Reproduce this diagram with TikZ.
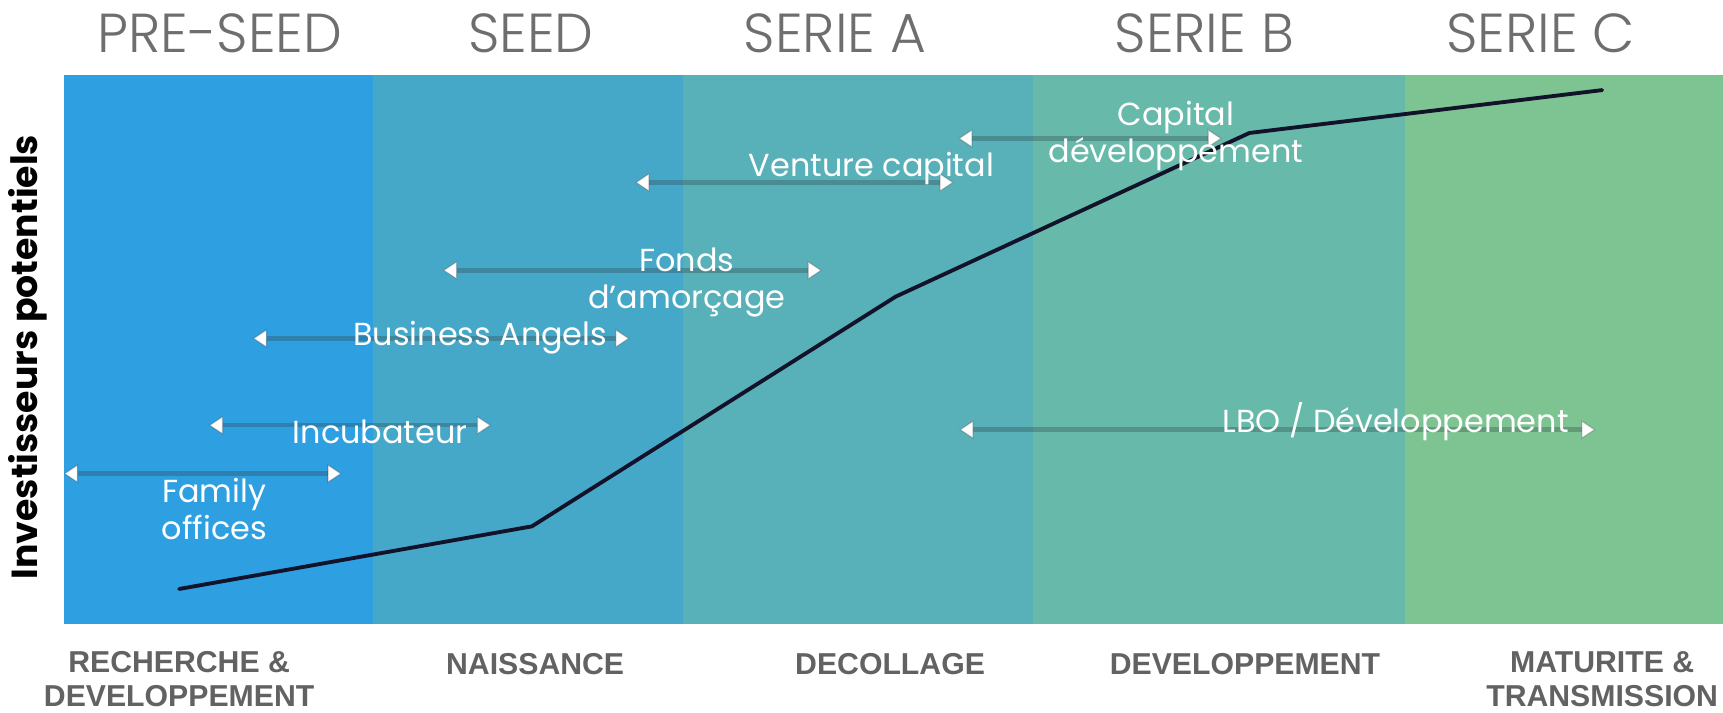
\documentclass[tikz,border=0pt]{standalone}
\usepackage{fontspec}
\setmainfont{Poppins}
\newfontfamily\lightfont{Poppins Light}
\newfontfamily\capsfont{Liberation Sans}
\usetikzlibrary{arrows.meta}

\definecolor{bandA}{HTML}{2E9FE0}
\definecolor{bandB}{HTML}{46A8C8}
\definecolor{bandC}{HTML}{58B0B8}
\definecolor{bandD}{HTML}{67B9A9}
\definecolor{bandE}{HTML}{7EC492}
\definecolor{phasegray}{HTML}{6E6E6E}
\definecolor{stagegray}{HTML}{626262}
\definecolor{shaft}{HTML}{2E3A40}
\definecolor{curveblack}{HTML}{12122A}

\tikzset{
  phase/.style={font=\lightfont\fontsize{50}{50}\selectfont, text=phasegray},
  stage/.style={font=\capsfont\bfseries\fontsize{27.5}{31}\selectfont, text=stagegray, align=center},
  investor/.style={font=\fontsize{29}{34}\selectfont, text=white, align=center},
  span/.style={line width=4pt, draw=shaft, draw opacity=0.3,
    {Triangle[fill=white,line width=1pt,length=13pt,width=17pt]}-{Triangle[fill=white,line width=1pt,length=13pt,width=17pt]}},
}

\begin{document}
\begin{tikzpicture}[x=1pt,y=-1pt]
\useasboundingbox (0,0) rectangle (1568,648);

%bands
\fill[bandA] (58,68) rectangle (339,568);
\fill[bandB] (339,68) rectangle (622,568);
\fill[bandC] (622,68) rectangle (940,568);
\fill[bandD] (940,68) rectangle (1279,568);
\fill[bandE] (1279,68) rectangle (1568,568);

%phases
\node[phase] (preseed) at (200,30) {PRE-SEED};
\node[phase] (seed) at (483,30) {SEED};
\node[phase] (seriea) at (760,30) {SERIE A};
\node[phase] (serieb) at (1096,30) {SERIE B};
\node[phase] (seriec) at (1402,30) {SERIE C};

%stages
\node[stage] (rd) at (163,618) {RECHERCHE \&\\DEVELOPPEMENT};
\node[stage] (naissance) at (487,604) {NAISSANCE};
\node[stage] (decollage) at (810,604) {DECOLLAGE};
\node[stage] (dev) at (1133,604) {DEVELOPPEMENT};
\node[stage] (maturite) at (1458,618) {MATURITE \&\\TRANSMISSION};

%axis label
\node[rotate=90, font=\bfseries\fontsize{33}{33}\selectfont] (ylabel) at (25,325) {Investisseurs potentiels};

%curve
\coordinate (p1) at (163,536);
\coordinate (p2) at (484,479);
\coordinate (p3) at (815,270);
\coordinate (p4) at (1137,121);
\coordinate (p5) at (1458,82);
\draw[curveblack, line width=3.5pt, line cap=round, line join=round] (p1) -- (p2) -- (p3) -- (p4) -- (p5);

%ranges
\coordinate (famL) at (58,431);   \coordinate (famR) at (311,431);
\coordinate (incL) at (190,387);  \coordinate (incR) at (447,387);
\coordinate (baL) at (230,308);   \coordinate (baR) at (573,308);
\coordinate (fdL) at (403,246);   \coordinate (fdR) at (748,246);
\coordinate (vcL) at (578,166);   \coordinate (vcR) at (868,166);
\coordinate (cdL) at (872,126);   \coordinate (cdR) at (1112,126);
\coordinate (lboL) at (873,391);  \coordinate (lboR) at (1452,391);
\draw[span] (famL) -- (famR);
\draw[span] (incL) -- (incR);
\draw[span] (baL) -- (baR);
\draw[span] (fdL) -- (fdR);
\draw[span] (vcL) -- (vcR);
\draw[span] (cdL) -- (cdR);
\draw[span] (lboL) -- (lboR);

%investors
\node[investor] (family) at (195,463) {Family\\offices};
\node[investor] (incub) at (346,393) {Incubateur};
\node[investor] (angels) at (437,307) {Business Angels};
\node[investor] (fonds) at (625,257) {Fonds\\d’amorçage};
\node[investor] (venture) at (793,153) {Venture capital};
\node[investor] (capdev) at (1070,124) {Capital\\développement};
\node[investor] (lbo) at (1270,384) {LBO / Développement};
\end{tikzpicture}
\end{document}
